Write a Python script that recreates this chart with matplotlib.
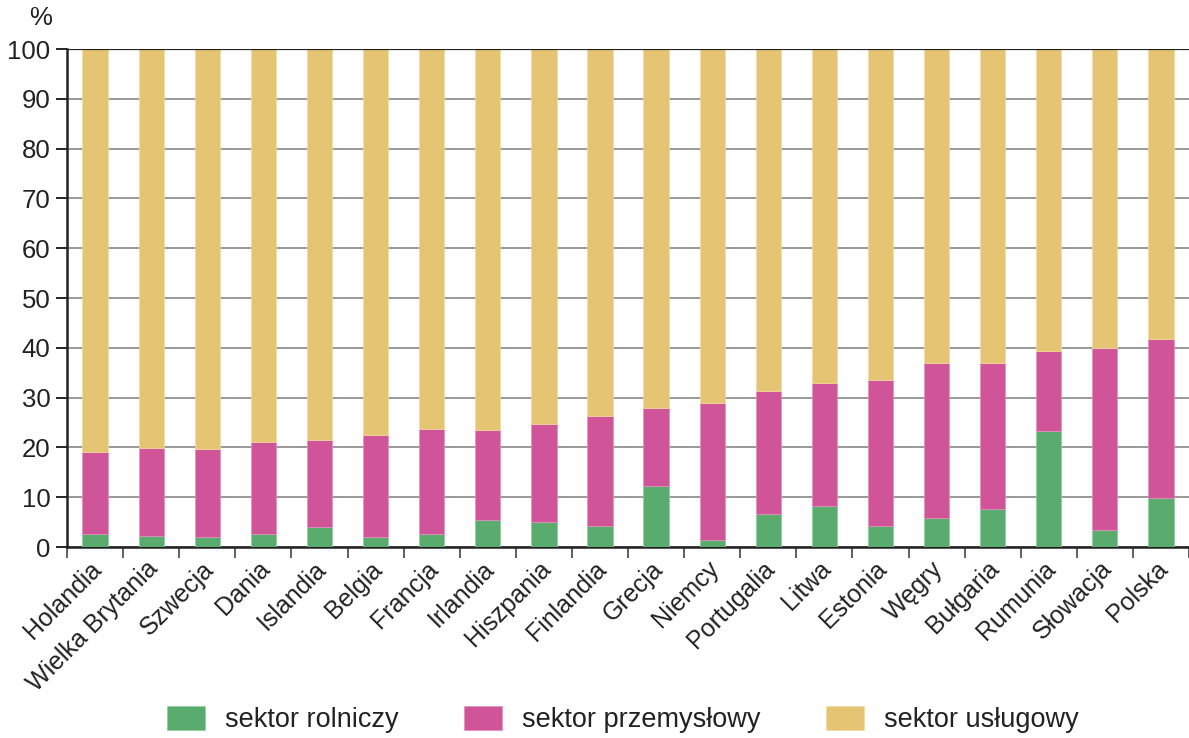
import numpy as np
import matplotlib.pyplot as plt

plt.rcParams['font.family'] = ['Liberation Sans', 'DejaVu Sans']

kraje = ["Holandia", "Wielka Brytania", "Szwecja", "Dania", "Islandia", "Belgia",
         "Francja", "Irlandia", "Hiszpania", "Finlandia", "Grecja", "Niemcy",
         "Portugalia", "Litwa", "Estonia", "Węgry", "Bułgaria", "Rumunia",
         "Słowacja", "Polska"]
# udzial sektora rolniczego (%)
rolniczy = [2.6, 2.2, 2.1, 2.6, 4.1, 2.1, 2.6, 5.5, 5.0, 4.3,
            12.3, 1.5, 6.7, 8.3, 4.2, 5.9, 7.7, 23.2, 3.5, 9.9]
# suma rolniczy + przemyslowy (%)
do_przemyslu = [19.0, 19.8, 19.7, 21.0, 21.5, 22.5, 23.6, 23.5, 24.6, 26.3,
                27.9, 28.9, 31.3, 32.9, 33.6, 37.0, 36.9, 39.4, 39.9, 41.7]

rolniczy = np.array(rolniczy)
przemyslowy = np.array(do_przemyslu) - rolniczy
uslugowy = 100 - rolniczy - przemyslowy

kol_r, kol_p, kol_u = "#5aab6e", "#d05598", "#e5c474"

fig = plt.figure(figsize=(11.89, 7.38), dpi=100)
ax = fig.add_axes([0.0564, 0.2588, 0.9436, 0.6748])

x = np.arange(len(kraje))
w = 0.45
ax.bar(x, rolniczy, w, color=kol_r, edgecolor="#8fcf9c", linewidth=0.5, label="sektor rolniczy", zorder=3)
ax.bar(x, przemyslowy, w, bottom=rolniczy, color=kol_p, edgecolor="#e58fbf", linewidth=0.5,
       label="sektor przemysłowy", zorder=3)
ax.bar(x, uslugowy, w, bottom=rolniczy + przemyslowy, color=kol_u, edgecolor="#f0dca0",
       linewidth=0.5, label="sektor usługowy", zorder=3)

ax.set_xlim(-0.5, len(kraje) - 0.5)
ax.set_ylim(0, 100)
ax.set_yticks(np.arange(0, 101, 10))
ax.tick_params(axis="y", labelsize=18.5, length=8, width=1.2, direction="out", pad=4,
               labelcolor="#222222")
ax.yaxis.grid(True, color="#999999", linewidth=1.4, zorder=0)
ax.axhline(100, color="#222222", linewidth=1.6, zorder=4)

ax.set_xticks(np.append(x - 0.5, len(kraje) - 0.5))
ax.set_xticklabels([])
ax.set_xticks(x - 0.1, minor=True)
ax.set_xticklabels(kraje, minor=True, rotation=45, ha="right", rotation_mode="anchor",
                   fontsize=18, color="#222222")
ax.tick_params(axis="x", which="minor", length=0, pad=7)
ax.tick_params(axis="x", which="major", length=8, width=1.2, color="#444444")

for s in ["top", "right"]:
    ax.spines[s].set_visible(False)
for s in ["left", "bottom"]:
    ax.spines[s].set_linewidth(1.8)
    ax.spines[s].set_color("#222222")

fig.text(0.034, 0.9756, "%", fontsize=18.5, ha="center", va="center", color="#222222")

leg = fig.legend(loc="center", bbox_to_anchor=(0.524, 0.0244), ncol=3, frameon=False,
                 fontsize=19.5, handlelength=1.4, handleheight=0.95, handletextpad=0.75,
                 columnspacing=2.4)
for t in leg.get_texts():
    t.set_color("#222222")

fig.savefig("out.png", dpi=100)
